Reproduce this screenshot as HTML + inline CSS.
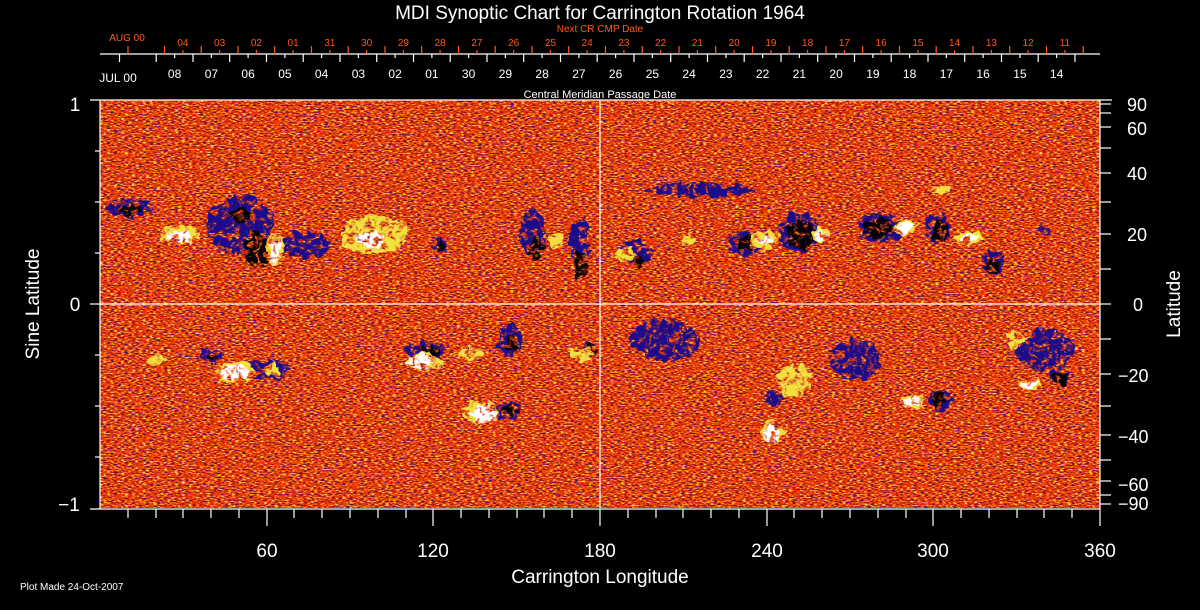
<!DOCTYPE html>
<html><head><meta charset="utf-8"><style>
html,body{margin:0;padding:0;background:#000;width:1200px;height:610px;overflow:hidden}
svg{display:block}
text{font-family:"Liberation Sans",sans-serif}
</style></head><body>
<svg width="1200" height="610" viewBox="0 0 1200 610" xmlns="http://www.w3.org/2000/svg">
<defs>
<filter id="noise" x="100" y="100" width="1000" height="408" filterUnits="userSpaceOnUse" color-interpolation-filters="sRGB">
<feTurbulence type="fractalNoise" baseFrequency="0.28 0.75" numOctaves="2" seed="7" result="t"/>
<feColorMatrix in="t" type="matrix" values="2.6 0 0 0 -0.8  2.6 0 0 0 -0.8  2.6 0 0 0 -0.8  0 0 0 0 1"/>
<feComponentTransfer>
<feFuncR type="discrete" tableValues="0.15 0.7 0.78 0.82 0.85 0.87 0.89 0.9 0.92 0.93 0.94 0.95 0.96 0.98 1 1"/>
<feFuncG type="discrete" tableValues="0.08 0.04 0.08 0.1 0.13 0.16 0.19 0.22 0.25 0.28 0.31 0.35 0.42 0.52 0.68 0.82"/>
<feFuncB type="discrete" tableValues="0.5 0 0 0 0 0.01 0.02 0.03 0.04 0.05 0.06 0.08 0.1 0.14 0.2 0.3"/>
<feFuncA type="table" tableValues="1 1"/>
</feComponentTransfer>
</filter>
<filter id="rag" x="0" y="0" width="1200" height="610" filterUnits="userSpaceOnUse" color-interpolation-filters="sRGB">
<feTurbulence type="fractalNoise" baseFrequency="0.18" numOctaves="2" seed="11" result="m"/>
<feColorMatrix in="m" type="matrix" values="0 0 0 0 0  0 0 0 0 0  0 0 0 0 0  5 0 0 0 -1.55" result="mask"/>
<feComposite in="SourceGraphic" in2="mask" operator="in" result="c"/>
<feTurbulence type="fractalNoise" baseFrequency="0.12" numOctaves="2" seed="3" result="n"/>
<feDisplacementMap in="c" in2="n" scale="12" xChannelSelector="R" yChannelSelector="G"/>
</filter>
</defs>

<rect x="100" y="100" width="1000" height="408" fill="#e04a14"/>
<rect x="100" y="100" width="1000" height="408" filter="url(#noise)"/>

<g filter="url(#rag)">
<g fill="#1c0c8c">
<ellipse cx="130" cy="208" rx="24" ry="9"/>
<ellipse cx="240" cy="225" rx="34" ry="30"/>
<ellipse cx="305" cy="245" rx="24" ry="13"/>
<ellipse cx="440" cy="246" rx="8" ry="7"/>
<ellipse cx="533" cy="232" rx="13" ry="24"/>
<ellipse cx="580" cy="245" rx="10" ry="28"/>
<ellipse cx="635" cy="252" rx="18" ry="12"/>
<ellipse cx="700" cy="190" rx="55" ry="7"/>
<ellipse cx="745" cy="243" rx="18" ry="12"/>
<ellipse cx="800" cy="232" rx="22" ry="20"/>
<ellipse cx="880" cy="228" rx="22" ry="16"/>
<ellipse cx="938" cy="228" rx="12" ry="16"/>
<ellipse cx="993" cy="262" rx="12" ry="12"/>
<ellipse cx="1045" cy="230" rx="7" ry="5"/>
<ellipse cx="210" cy="356" rx="10" ry="8"/>
<ellipse cx="265" cy="370" rx="26" ry="10"/>
<ellipse cx="425" cy="350" rx="20" ry="9"/>
<ellipse cx="510" cy="340" rx="12" ry="16"/>
<ellipse cx="508" cy="410" rx="12" ry="9"/>
<ellipse cx="590" cy="350" rx="7" ry="7"/>
<ellipse cx="665" cy="340" rx="35" ry="20"/>
<ellipse cx="775" cy="398" rx="9" ry="8"/>
<ellipse cx="855" cy="360" rx="26" ry="20"/>
<ellipse cx="940" cy="400" rx="12" ry="10"/>
<ellipse cx="1045" cy="350" rx="30" ry="20"/>
<ellipse cx="1060" cy="378" rx="12" ry="7"/>
</g>
<g fill="#050208">
<ellipse cx="130" cy="210" rx="12" ry="5"/>
<ellipse cx="258" cy="250" rx="14" ry="18"/>
<ellipse cx="240" cy="215" rx="10" ry="8"/>
<ellipse cx="440" cy="246" rx="5" ry="5"/>
<ellipse cx="536" cy="250" rx="8" ry="10"/>
<ellipse cx="580" cy="265" rx="7" ry="12"/>
<ellipse cx="640" cy="262" rx="6" ry="5"/>
<ellipse cx="745" cy="243" rx="10" ry="8"/>
<ellipse cx="802" cy="235" rx="14" ry="14"/>
<ellipse cx="878" cy="228" rx="14" ry="10"/>
<ellipse cx="940" cy="230" rx="7" ry="12"/>
<ellipse cx="993" cy="265" rx="7" ry="8"/>
<ellipse cx="212" cy="356" rx="5" ry="5"/>
<ellipse cx="228" cy="370" rx="5" ry="5"/>
<ellipse cx="428" cy="350" rx="10" ry="5"/>
<ellipse cx="512" cy="345" rx="6" ry="8"/>
<ellipse cx="510" cy="410" rx="8" ry="6"/>
<ellipse cx="592" cy="350" rx="5" ry="6"/>
<ellipse cx="940" cy="400" rx="8" ry="7"/>
<ellipse cx="1060" cy="378" rx="9" ry="6"/>
</g>
<g fill="#f0e040">
<ellipse cx="180" cy="235" rx="20" ry="9"/>
<ellipse cx="275" cy="250" rx="9" ry="16"/>
<ellipse cx="375" cy="235" rx="34" ry="20"/>
<ellipse cx="555" cy="240" rx="6" ry="8"/>
<ellipse cx="625" cy="255" rx="10" ry="7"/>
<ellipse cx="688" cy="240" rx="7" ry="5"/>
<ellipse cx="765" cy="240" rx="14" ry="9"/>
<ellipse cx="820" cy="235" rx="9" ry="7"/>
<ellipse cx="905" cy="228" rx="13" ry="7"/>
<ellipse cx="968" cy="238" rx="14" ry="7"/>
<ellipse cx="940" cy="190" rx="10" ry="5"/>
<ellipse cx="157" cy="360" rx="9" ry="5"/>
<ellipse cx="235" cy="372" rx="20" ry="11"/>
<ellipse cx="272" cy="370" rx="8" ry="6"/>
<ellipse cx="425" cy="362" rx="18" ry="9"/>
<ellipse cx="470" cy="355" rx="12" ry="6"/>
<ellipse cx="480" cy="412" rx="18" ry="11"/>
<ellipse cx="582" cy="354" rx="10" ry="6"/>
<ellipse cx="772" cy="432" rx="12" ry="11"/>
<ellipse cx="795" cy="380" rx="18" ry="16"/>
<ellipse cx="912" cy="402" rx="12" ry="7"/>
<ellipse cx="1015" cy="340" rx="10" ry="9"/>
<ellipse cx="1030" cy="385" rx="10" ry="5"/>
</g>
<g fill="#ffffff">
<ellipse cx="180" cy="237" rx="12" ry="6"/>
<ellipse cx="275" cy="252" rx="6" ry="12"/>
<ellipse cx="370" cy="240" rx="14" ry="8"/>
<ellipse cx="765" cy="240" rx="8" ry="5"/>
<ellipse cx="820" cy="235" rx="5" ry="5"/>
<ellipse cx="905" cy="228" rx="8" ry="5"/>
<ellipse cx="968" cy="238" rx="8" ry="4"/>
<ellipse cx="235" cy="372" rx="14" ry="8"/>
<ellipse cx="420" cy="362" rx="12" ry="7"/>
<ellipse cx="485" cy="414" rx="12" ry="8"/>
<ellipse cx="772" cy="434" rx="9" ry="8"/>
<ellipse cx="912" cy="402" rx="8" ry="5"/>
<ellipse cx="1030" cy="385" rx="6" ry="4"/>
</g>
</g>

<g stroke="#fff" stroke-width="1.2" fill="none">
<line x1="100" y1="304" x2="1100" y2="304"/>
<line x1="600" y1="100" x2="600" y2="508"/>
<line x1="100" y1="100" x2="100" y2="509"/>
<line x1="1100" y1="100" x2="1100" y2="509"/>
<line x1="90" y1="100" x2="1112" y2="100"/>
<line x1="90" y1="509" x2="1100" y2="509"/>
<line x1="90" y1="304" x2="100" y2="304"/>
<line x1="95" y1="151" x2="100" y2="151"/><line x1="95" y1="202" x2="100" y2="202"/>
<line x1="95" y1="253" x2="100" y2="253"/><line x1="95" y1="355" x2="100" y2="355"/>
<line x1="95" y1="406" x2="100" y2="406"/><line x1="95" y1="457" x2="100" y2="457"/>
<line x1="1100" y1="104" x2="1111" y2="104"/><line x1="1100" y1="113" x2="1111" y2="113"/>
<line x1="1100" y1="127" x2="1111" y2="127"/><line x1="1100" y1="148" x2="1111" y2="148"/>
<line x1="1100" y1="173" x2="1111" y2="173"/><line x1="1100" y1="202" x2="1111" y2="202"/>
<line x1="1100" y1="234" x2="1111" y2="234"/><line x1="1100" y1="269" x2="1111" y2="269"/>
<line x1="1100" y1="304" x2="1111" y2="304"/><line x1="1100" y1="339" x2="1111" y2="339"/>
<line x1="1100" y1="374" x2="1111" y2="374"/><line x1="1100" y1="406" x2="1111" y2="406"/>
<line x1="1100" y1="435" x2="1111" y2="435"/><line x1="1100" y1="460" x2="1111" y2="460"/>
<line x1="1100" y1="481" x2="1111" y2="481"/><line x1="1100" y1="495" x2="1111" y2="495"/>
<line x1="1100" y1="504" x2="1111" y2="504"/>
<path d="M128 509v9M156 509v9M183 509v9M211 509v9M239 509v9M267 509v17M294 509v9M322 509v9M350 509v9M378 509v9M406 509v9M433 509v17M461 509v9M489 509v9M517 509v9M544 509v9M572 509v9M600 509v17M628 509v9M656 509v9M683 509v9M711 509v9M739 509v9M767 509v17M794 509v9M822 509v9M850 509v9M878 509v9M906 509v9M933 509v17M961 509v9M989 509v9M1017 509v9M1044 509v9M1072 509v9M1100 509v17"/>
<line x1="100" y1="54" x2="1100" y2="54"/>
<path d="M119.5 54v8M156.2 54v8M193 54v8M229.7 54v8M266.5 54v8M303.2 54v8M340 54v8M376.7 54v8M413.5 54v8M450.2 54v8M487 54v8M523.7 54v8M560.5 54v8M597.2 54v8M634 54v8M670.7 54v8M707.5 54v8M744.2 54v8M781 54v8M817.7 54v8M854.5 54v8M891.2 54v8M928 54v8M964.7 54v8M1001.5 54v8M1038.2 54v8M1075 54v8
M174.6 54v4M211.4 54v4M248.1 54v4M284.9 54v4M321.6 54v4M358.4 54v4M395.1 54v4M431.9 54v4M468.6 54v4M505.4 54v4M542.1 54v4M578.9 54v4M615.6 54v4M652.4 54v4M689.1 54v4M725.9 54v4M762.6 54v4M799.4 54v4M836.1 54v4M872.9 54v4M909.6 54v4M946.4 54v4M983.1 54v4M1019.9 54v4M1056.6 54v4"/>
</g>
<g stroke="#ff5a1a" stroke-width="1.2" fill="none">
<path d="M128 54v-8M164.5 54v-8M201.2 54v-8M238 54v-8M274.7 54v-8M311.5 54v-8M348.2 54v-8M385 54v-8M421.7 54v-8M458.5 54v-8M495.2 54v-8M532 54v-8M568.7 54v-8M605.5 54v-8M642.2 54v-8M679 54v-8M715.7 54v-8M752.5 54v-8M789.2 54v-8M826 54v-8M862.7 54v-8M899.5 54v-8M936.2 54v-8M973 54v-8M1009.7 54v-8M1046.5 54v-8M1083.2 54v-8
M182.9 54v-4M219.6 54v-4M256.4 54v-4M293.1 54v-4M329.9 54v-4M366.6 54v-4M403.4 54v-4M440.1 54v-4M476.9 54v-4M513.6 54v-4M550.4 54v-4M587.1 54v-4M623.9 54v-4M660.6 54v-4M697.4 54v-4M734.1 54v-4M770.9 54v-4M807.6 54v-4M844.4 54v-4M881.1 54v-4M917.9 54v-4M954.6 54v-4M991.4 54v-4M1028.1 54v-4M1064.9 54v-4"/>
</g>

<g fill="#fff" font-size="19" text-anchor="middle">
<text x="600" y="19" font-size="19">MDI Synoptic Chart for Carrington Rotation 1964</text>
<text x="600" y="98" font-size="11">Central Meridian Passage Date</text>
<text x="267" y="557">60</text><text x="433" y="557">120</text><text x="600" y="557">180</text>
<text x="767" y="557">240</text><text x="933" y="557">300</text><text x="1100" y="557">360</text>
<text x="600" y="583">Carrington Longitude</text>
<text x="75" y="111">1</text><text x="75" y="311">0</text><text x="69" y="511">−1</text>
<text transform="translate(39,304) rotate(-90)">Sine Latitude</text>
<text transform="translate(1180,304) rotate(-90)">Latitude</text>
</g>
<g fill="#fff" font-size="18">
<text x="1127" y="111">90</text><text x="1127" y="135">60</text><text x="1127" y="180">40</text>
<text x="1127" y="241">20</text><text x="1133" y="311">0</text><text x="1118" y="382">−20</text>
<text x="1118" y="443">−40</text><text x="1118" y="491">−60</text><text x="1118" y="510">−90</text>
</g>
<text x="20" y="590" fill="#fff" font-size="10">Plot Made 24-Oct-2007</text>
<g fill="#fff" font-size="12" text-anchor="middle">
<text x="118" y="82">JUL 00</text>
<text x="174.6" y="78">08</text><text x="211.4" y="78">07</text><text x="248.1" y="78">06</text><text x="284.9" y="78">05</text><text x="321.6" y="78">04</text><text x="358.4" y="78">03</text><text x="395.1" y="78">02</text><text x="431.9" y="78">01</text><text x="468.6" y="78">30</text><text x="505.4" y="78">29</text><text x="542.1" y="78">28</text><text x="578.9" y="78">27</text><text x="615.6" y="78">26</text><text x="652.4" y="78">25</text><text x="689.1" y="78">24</text><text x="725.9" y="78">23</text><text x="762.6" y="78">22</text><text x="799.4" y="78">21</text><text x="836.1" y="78">20</text><text x="872.9" y="78">19</text><text x="909.6" y="78">18</text><text x="946.4" y="78">17</text><text x="983.1" y="78">16</text><text x="1019.9" y="78">15</text><text x="1056.6" y="78">14</text>
</g>
<g fill="#ff5a1a" font-size="10" text-anchor="middle">
<text x="600" y="32">Next CR CMP Date</text>
<text x="127" y="41">AUG 00</text>
<text x="182.9" y="46">04</text><text x="219.6" y="46">03</text><text x="256.4" y="46">02</text><text x="293.1" y="46">01</text><text x="329.9" y="46">31</text><text x="366.6" y="46">30</text><text x="403.4" y="46">29</text><text x="440.1" y="46">28</text><text x="476.9" y="46">27</text><text x="513.6" y="46">26</text><text x="550.4" y="46">25</text><text x="587.1" y="46">24</text><text x="623.9" y="46">23</text><text x="660.6" y="46">22</text><text x="697.4" y="46">21</text><text x="734.1" y="46">20</text><text x="770.9" y="46">19</text><text x="807.6" y="46">18</text><text x="844.4" y="46">17</text><text x="881.1" y="46">16</text><text x="917.9" y="46">15</text><text x="954.6" y="46">14</text><text x="991.4" y="46">13</text><text x="1028.1" y="46">12</text><text x="1064.9" y="46">11</text>
</g>
</svg>
</body></html>
